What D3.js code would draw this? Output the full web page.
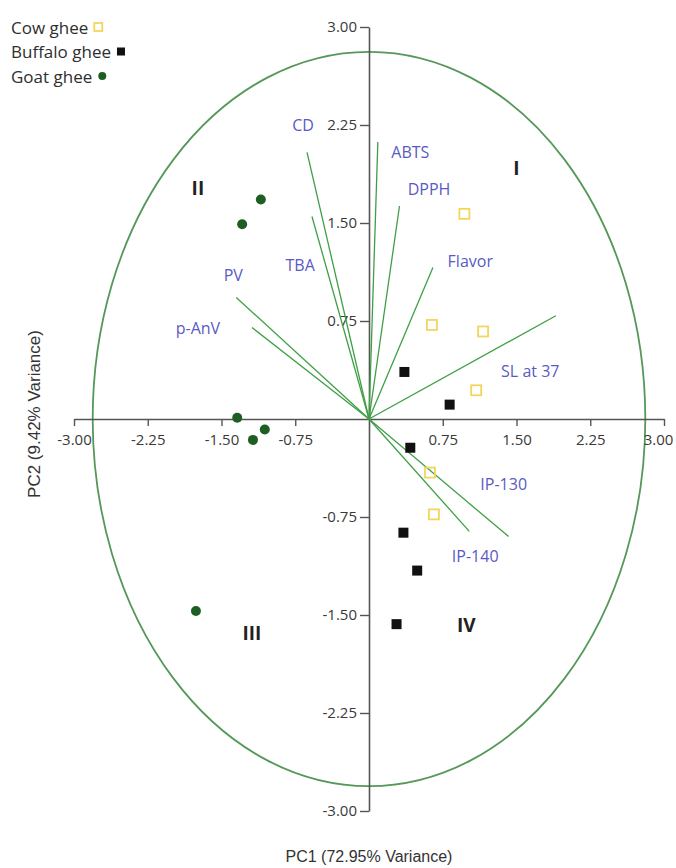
<!DOCTYPE html>
<html><head><meta charset="utf-8">
<script src="https://cdn.jsdelivr.net/npm/d3@7/dist/d3.min.js"></script>
<style>
html,body{margin:0;padding:0;background:#fff;}
svg{display:block;}
</style>
</head><body>
<svg id="chart" width="676" height="868"></svg>
<script>
// ---- data ----
const cowX = [0.97, 0.64, 1.16, 1.09, 0.62, 0.66];
const cowY = [1.57, 0.72, 0.67, 0.22, -0.41, -0.73];
const buffaloX = [0.36, 0.82, 0.42, 0.35, 0.49, 0.28];
const buffaloY = [0.36, 0.11, -0.22, -0.87, -1.16, -1.57];
const goatX = [-1.10, -1.29, -1.34, -1.06, -1.18, -1.76];
const goatY = [1.68, 1.49, 0.01, -0.08, -0.16, -1.47];

const loadingNames = ["CD", "ABTS", "DPPH", "Flavor", "TBA", "PV", "p-AnV", "SL at 37", "IP-130", "IP-140"];
const loadingX = [-0.63, 0.09, 0.31, 0.65, -0.58, -1.35, -1.19, 1.90, 1.42, 1.02];
const loadingY = [2.04, 2.12, 1.63, 1.16, 1.55, 0.93, 0.70, 0.79, -0.90, -0.86];
const loadingLabelX = [-0.67, 0.42, 0.61, 1.03, -0.70, -1.38, -1.74, 1.64, 1.37, 1.08];
const loadingLabelY = [2.25, 2.04, 1.76, 1.21, 1.18, 1.10, 0.70, 0.37, -0.50, -1.05];

const quadrantNames = ["I", "II", "III", "IV"];
const quadrantX = [1.50, -1.74, -1.19, 0.99];
const quadrantY = [1.92, 1.77, -1.64, -1.58];

const tickValues = [-3.00, -2.25, -1.50, -0.75, 0.75, 1.50, 2.25, 3.00];
const tickLabels = ["-3.00", "-2.25", "-1.50", "-0.75", "0.75", "1.50", "2.25", "3.00"];
const circleRadius = 2.81;

const seriesNames = ["Cow ghee", "Buffalo ghee", "Goat ghee"];
const xTitle = "PC1 (72.95% Variance)";
const yTitle = "PC2 (9.42% Variance)";

// ---- drawing ----
const svg = d3.select("#chart");
const font = "'Open Sans', 'Segoe UI', sans-serif";
const titleFont = "'Liberation Sans', Arial, sans-serif";
const x = d3.scaleLinear().domain([-3, 3]).range([74, 664]);
const y = d3.scaleLinear().domain([-3, 3]).range([811, 27]);

// circle (ellipse in pixel space)
svg.append("ellipse")
  .attr("cx", x(0)).attr("cy", y(0))
  .attr("rx", x(circleRadius) - x(0))
  .attr("ry", y(0) - y(circleRadius))
  .attr("fill", "none").attr("stroke", "#55985a").attr("stroke-width", 1.8);

// axes
const fmt = v => tickLabels[tickValues.indexOf(v)];
const xAxis = svg.append("g").attr("transform", `translate(0,${y(0)})`)
  .call(d3.axisBottom(x).tickValues(tickValues).tickFormat(fmt).tickSize(7).tickSizeOuter(0).tickPadding(8));
const yAxis = svg.append("g").attr("transform", `translate(${x(0)},0)`)
  .call(d3.axisLeft(y).tickValues(tickValues).tickFormat(fmt).tickSize(9).tickSizeOuter(0).tickPadding(3));
[xAxis, yAxis].forEach(g => {
  g.select(".domain").attr("stroke", "#555").attr("stroke-width", 1.6);
  g.selectAll(".tick line").attr("stroke", "#555").attr("stroke-width", 1.4);
  g.selectAll(".tick text").attr("fill", "#3a3a3a").style("font-family", font).style("font-size", "15px");
});
xAxis.selectAll(".tick text").filter(d => d === 3).attr("dx", "-6");

// loading vectors
const loadings = loadingNames.map((n, i) => ({n, x: loadingX[i], y: loadingY[i], lx: loadingLabelX[i], ly: loadingLabelY[i]}));
svg.append("g").selectAll("line").data(loadings).join("line")
  .attr("x1", x(0)).attr("y1", y(0))
  .attr("x2", d => x(d.x)).attr("y2", d => y(d.y))
  .attr("stroke", "#3f9f45").attr("stroke-width", 1.3);
svg.append("g").selectAll("text").data(loadings).join("text")
  .attr("x", d => x(d.lx)).attr("y", d => y(d.ly))
  .attr("text-anchor", "middle").attr("dominant-baseline", "central")
  .attr("fill", "#5a5ac4").style("font-family", font).style("font-size", "16px")
  .text(d => d.n);

// quadrant labels
svg.append("g").selectAll("text").data(quadrantNames).join("text")
  .attr("x", (d, i) => x(quadrantX[i])).attr("y", (d, i) => y(quadrantY[i]))
  .attr("text-anchor", "middle").attr("dominant-baseline", "central")
  .attr("fill", "#222").style("font-family", font).style("font-size", "19px").style("font-weight", "bold")
  .text(d => d);

// points
const cow = cowX.map((v, i) => [v, cowY[i]]);
const buffalo = buffaloX.map((v, i) => [v, buffaloY[i]]);
const goat = goatX.map((v, i) => [v, goatY[i]]);
svg.append("g").selectAll("rect").data(cow).join("rect")
  .attr("x", d => x(d[0]) - 5).attr("y", d => y(d[1]) - 5)
  .attr("width", 10).attr("height", 10)
  .attr("fill", "none").attr("stroke", "#f3d55e").attr("stroke-width", 1.8);
svg.append("g").selectAll("rect").data(buffalo).join("rect")
  .attr("x", d => x(d[0]) - 5).attr("y", d => y(d[1]) - 5)
  .attr("width", 10).attr("height", 10).attr("fill", "#111");
svg.append("g").selectAll("circle").data(goat).join("circle")
  .attr("cx", d => x(d[0])).attr("cy", d => y(d[1])).attr("r", 5)
  .attr("fill", "#1d5e22");

// axis titles
svg.append("text").attr("x", x(0)).attr("y", 856)
  .attr("text-anchor", "middle").attr("dominant-baseline", "central")
  .attr("fill", "#333").style("font-family", titleFont).style("font-size", "16px").text(xTitle);
svg.append("text").attr("transform", `translate(34,${y(0) - 5}) rotate(-90)`)
  .attr("text-anchor", "middle").attr("dominant-baseline", "central")
  .attr("fill", "#333").style("font-family", titleFont).style("font-size", "17px").text(yTitle);

// legend
const legend = svg.append("g");
seriesNames.forEach((name, i) => {
  const ly = 27 + i * 24.5;
  const t = legend.append("text").attr("x", 11).attr("y", ly)
    .attr("dominant-baseline", "central")
    .attr("fill", "#2e2e2e").style("font-family", font).style("font-size", "17px").text(name);
  const w = t.node().getComputedTextLength();
  const sx = 11 + w + 10;
  if (i === 0) {
    legend.append("rect").attr("x", sx - 4).attr("y", ly - 4).attr("width", 8).attr("height", 8)
      .attr("fill", "none").attr("stroke", "#f3d55e").attr("stroke-width", 1.8);
  } else if (i === 1) {
    legend.append("rect").attr("x", sx - 4).attr("y", ly - 4).attr("width", 8).attr("height", 8).attr("fill", "#111");
  } else {
    legend.append("circle").attr("cx", sx).attr("cy", ly).attr("r", 4).attr("fill", "#1d5e22");
  }
});
</script>
</body></html>
